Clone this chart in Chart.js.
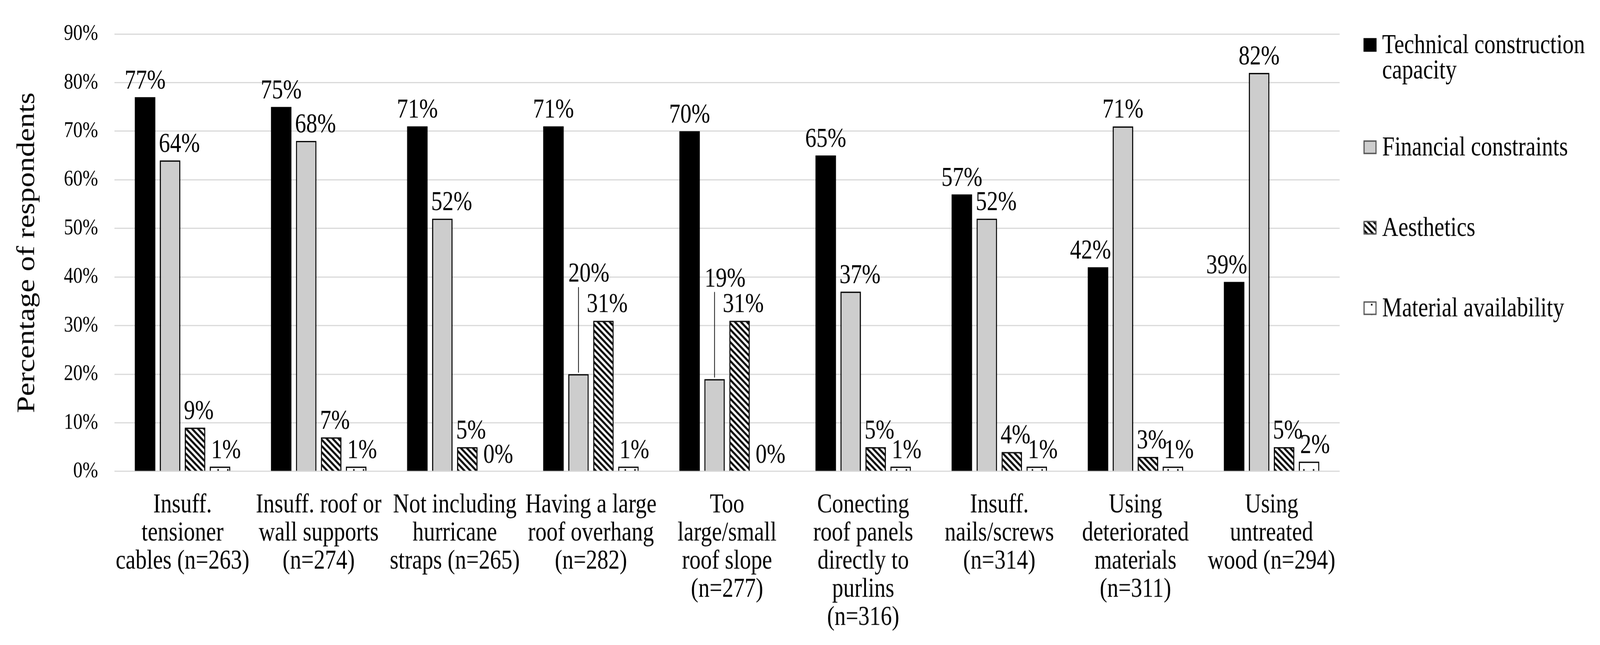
<!DOCTYPE html>
<html>
<head>
<meta charset="utf-8">
<script src="https://cdn.jsdelivr.net/npm/chart.js@4.4.1/dist/chart.umd.min.js"></script>
<style>
  html, body { margin: 0; padding: 0; background: #fff; width: 100%; height: 100%; overflow: hidden; }
  #page { position: relative; width: 100vw; height: 100vh; overflow: hidden; }
  #wrap { position: absolute; left: 0; top: 0; transform-origin: 0 0; }
</style>
</head>
<body>
<div id="page"><div id="wrap"><canvas id="chart"></canvas></div></div>
<script>
// Reasons for not applying each practice, share of respondents (%)
const CATEGORIES = [
  ['Insuff.', 'tensioner', 'cables (n=263)'],
  ['Insuff. roof or', 'wall supports', '(n=274)'],
  ['Not including', 'hurricane', 'straps (n=265)'],
  ['Having a large', 'roof overhang', '(n=282)'],
  ['Too', 'large/small', 'roof slope', '(n=277)'],
  ['Conecting', 'roof panels', 'directly to', 'purlins', '(n=316)'],
  ['Insuff.', 'nails/screws', '(n=314)'],
  ['Using', 'deteriorated', 'materials', '(n=311)'],
  ['Using', 'untreated', 'wood (n=294)'],
];

const SERIES_NAMES = ['Technical construction capacity', 'Financial constraints', 'Aesthetics', 'Material availability'];
const LEGEND_LINES = [['Technical construction', 'capacity'], ['Financial constraints'], ['Aesthetics'], ['Material availability']];

const TECHNICAL  = [77, 75, 71, 71, 70, 65, 57, 42, 39];
const FINANCIAL  = [64, 68, 52, 20, 19, 37, 52, 71, 82];
const AESTHETICS = [9, 7, 5, 31, 31, 5, 4, 3, 5];
const MATERIAL   = [1, 1, 0, 1, 0, 1, 1, 1, 2];

const Y_MAX = 90;
const Y_STEP = 10;

const SERIF = "'Liberation Serif', 'Times New Roman', serif";

// The source figure is a 4292x1652 image whose text is visibly stretched
// vertically (~15%). Draw at 4292 x 1652/STRETCH and stretch the page back,
// scaled to whatever viewport we actually get.
const PAGE_W = 4292;
const PAGE_H = 1652;
const STRETCH = 1.15;
const v = (y) => y / STRETCH; // vertical distance measured on the source -> drawing units

const wrap = document.getElementById('wrap');
wrap.style.width = PAGE_W + 'px';
wrap.style.height = v(PAGE_H) + 'px';
wrap.style.transform = `scale(${window.innerWidth / PAGE_W}, ${STRETCH * window.innerHeight / PAGE_H})`;

// Financial labels for two groups sit higher with a leader line
const LIFTED = { 1: { 3: 215, 4: 215 } };

function hatchPattern() {
  const w = 16;
  const c = document.createElement('canvas');
  c.width = w; c.height = Math.round(v(16));
  const H = c.height;
  const g = c.getContext('2d');
  g.fillStyle = '#fff';
  g.fillRect(0, 0, w, H);
  g.strokeStyle = '#000';
  g.lineWidth = 5;
  g.beginPath();
  g.moveTo(-w / 4, -H / 4); g.lineTo(w * 1.25, H * 1.25);
  g.moveTo(-w / 4, H * 0.75); g.lineTo(w / 4, H * 1.25);
  g.moveTo(w * 0.75, -H / 4); g.lineTo(w * 1.25, H / 4);
  g.stroke();
  return g.createPattern(c, 'repeat');
}

function dotPattern() {
  const c = document.createElement('canvas');
  c.width = 26; c.height = Math.round(v(26));
  const g = c.getContext('2d');
  g.fillStyle = '#fff';
  g.fillRect(0, 0, c.width, c.height);
  g.fillStyle = '#000';
  g.fillRect(11, c.height / 2 - 2, 4, v(4));
  return g.createPattern(c, 'repeat');
}

// nudge a label sideways when the neighbouring bar is taller, so it does not sit on it
function labelShift(di, i) {
  if (di === 0) return FINANCIAL[i] > TECHNICAL[i] ? -20 : 0;
  if (di === 1) {
    if (LIFTED[1][i]) return 28;
    return TECHNICAL[i] > FINANCIAL[i] ? 25 : 0;
  }
  return di === 2 ? 10 : 16;
}

const valueLabels = {
  id: 'valueLabels',
  afterDatasetsDraw(chart) {
    const ctx = chart.ctx;
    ctx.save();
    ctx.font = `60px ${SERIF}`;
    ctx.fillStyle = '#000';
    ctx.textAlign = 'center';
    ctx.textBaseline = 'alphabetic';
    chart.data.datasets.forEach((ds, di) => {
      const meta = chart.getDatasetMeta(di);
      meta.data.forEach((bar, i) => {
        const lift = v((LIFTED[di] && LIFTED[di][i]) || 0);
        const x = bar.x + labelShift(di, i);
        const y = bar.y - v(22) - lift;
        ctx.fillText(ds.data[i] + '%', x, y);
        if (lift) {
          ctx.strokeStyle = '#000';
          ctx.lineWidth = 2;
          ctx.beginPath();
          ctx.moveTo(bar.x, bar.y - v(4));
          ctx.lineTo(bar.x, y + v(14));
          ctx.stroke();
        }
      });
    });
    ctx.restore();
  },
};

const sideLegend = {
  id: 'sideLegend',
  afterDraw(chart) {
    const ctx = chart.ctx;
    const x0 = chart.chartArea.right + 64;
    const bw = 35, bh = v(35);
    let y = v(115);
    ctx.save();
    ctx.font = `60px ${SERIF}`;
    ctx.textAlign = 'left';
    ctx.textBaseline = 'alphabetic';
    chart.data.datasets.forEach((ds, i) => {
      ctx.fillStyle = ds.backgroundColor;
      ctx.fillRect(x0, y - bh / 2, bw, bh);
      if (ds.borderWidth) {
        ctx.strokeStyle = '#555';
        ctx.lineWidth = 3;
        ctx.strokeRect(x0 + 1.5, y - bh / 2 + 1.5, bw - 3, bh - 3);
      }
      ctx.fillStyle = '#000';
      LEGEND_LINES[i].forEach((line, k) => ctx.fillText(line, x0 + 50, y + v(21) + k * v(65)));
      y += v(206 + (LEGEND_LINES[i].length - 1) * 56);
    });
    ctx.restore();
  },
};

const fills = ['#000', '#cdcdcd', hatchPattern(), dotPattern()];
const seriesData = [TECHNICAL, FINANCIAL, AESTHETICS, MATERIAL];

new Chart(document.getElementById('chart'), {
  type: 'bar',
  data: {
    labels: CATEGORIES,
    datasets: seriesData.map((values, i) => ({
      label: SERIES_NAMES[i],
      data: values,
      backgroundColor: fills[i],
      borderColor: '#000',
      borderWidth: i === 0 ? 0 : 3,
      barPercentage: 0.82,
      categoryPercentage: 0.734,
    })),
  },
  options: {
    responsive: true,
    maintainAspectRatio: false,
    devicePixelRatio: STRETCH,
    animation: false,
    events: [],
    layout: { padding: { left: 0, right: 699, top: v(87), bottom: 0 } },
    plugins: { legend: { display: false }, tooltip: { enabled: false } },
    scales: {
      x: {
        grid: { display: false },
        border: { display: false },
        ticks: {
          color: '#000',
          font: { family: SERIF, size: 60, lineHeight: v(72) / 60 },
          padding: v(42),
          autoSkip: false,
          maxRotation: 0,
          minRotation: 0,
        },
        afterFit: (s) => { s.height = v(445); },
      },
      y: {
        min: 0,
        max: Y_MAX,
        grid: { color: '#d9d9d9', lineWidth: v(3), drawTicks: false },
        border: { display: false },
        ticks: {
          stepSize: Y_STEP,
          color: '#000',
          font: { family: SERIF, size: 50 },
          padding: 44,
          callback: (val) => val + '%',
        },
        title: {
          display: true,
          text: 'Percentage of respondents',
          color: '#000',
          font: { family: SERIF, size: 68, lineHeight: 1.2 },
          padding: { top: 33, bottom: 0 },
        },
        afterFit: (s) => { s.width = 307; },
      },
    },
  },
  plugins: [valueLabels, sideLegend],
});
</script>
</body>
</html>
